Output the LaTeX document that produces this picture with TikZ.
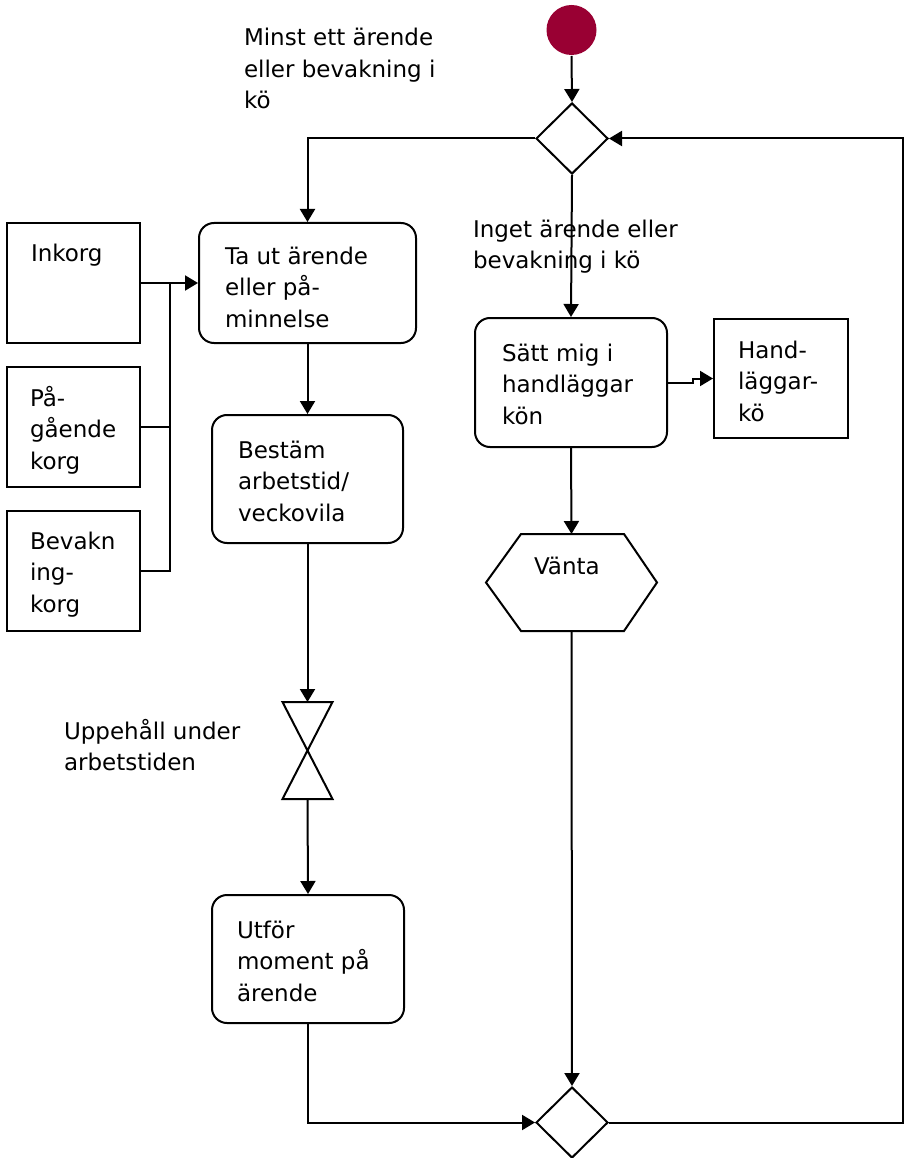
\documentclass[tikz,border=0pt]{standalone}
\usepackage{fontspec}
\setmainfont{DejaVu Sans}
\usetikzlibrary{arrows.meta,shapes.geometric}
\definecolor{startred}{HTML}{990033}
\begin{document}
\begin{tikzpicture}[x=1pt,y=-1pt,
  line width=2pt,
  arr/.style={-{Triangle[length=13pt,width=15pt]}},
  box/.style={draw,rectangle,minimum width=#1,inner sep=0pt},
  act/.style={draw,rectangle,rounded corners=15pt,inner sep=0pt},
  decision/.style={draw,diamond,minimum width=72pt,minimum height=71pt,inner sep=0pt},
  frame/.style={rectangle,inner sep=0pt},
  txt/.style={anchor=north west,inner sep=0pt,align=left,font=\fontsize{23}{31.5}\selectfont}
]
\useasboundingbox (0,0) rectangle (905,1158);

% start and decision points
\node[circle,fill=startred,minimum size=50pt,inner sep=0pt] (start) at (571.5,30) {};
\node[decision] (d1) at (572,138.5) {};
\node[decision] (d2) at (572,1122.5) {};

% input baskets
\node[box=133pt,minimum height=120pt] (inkorg) at (73.5,283) {};
\node[box=133pt,minimum height=120pt] (pag) at (73.5,427) {};
\node[box=133pt,minimum height=120pt] (bev) at (73.5,571) {};

% activities
\node[act,minimum width=217pt,minimum height=120pt] (taut) at (307.5,283) {};
\node[act,minimum width=191pt,minimum height=128pt] (bestam) at (307.5,479) {};
\node[act,minimum width=192pt,minimum height=128pt] (utfor) at (308,959) {};
\node[act,minimum width=192pt,minimum height=129pt] (satt) at (571,382.5) {};
\node[box=134pt,minimum height=119pt] (hand) at (781,378.5) {};

% wait (hexagon) and pause (hourglass)
\node[frame,minimum width=169pt,minimum height=95pt] (vanta) at (571.5,582.5) {};
\draw (vanta.west) -- ([xshift=35pt]vanta.north west) -- ([xshift=-33pt]vanta.north east)
  -- (vanta.east) -- ([xshift=-33pt]vanta.south east) -- ([xshift=35pt]vanta.south west) -- cycle;
\node[frame,minimum width=48pt,minimum height=95pt] (pause) at (307.5,750.5) {};
\draw (pause.north west) -- (pause.north east) -- (pause.south west) -- (pause.south east) -- cycle;

% texts
\node[txt] (tminst) at (243,45-22.05) {\strut Minst ett ärende\\eller bevakning i\\kö};
\node[txt] (tinget) at (472,236-22.05) {\strut Inget ärende eller\\bevakning i kö};
\node[txt] (tinkorg) at (30,261-22.05) {\strut Inkorg};
\node[txt] (tpag) at (29,405-22.05) {\strut På-\\gående\\korg};
\node[txt] (tbev) at (29,548-22.05) {\strut Bevakn\\ing-\\korg};
\node[txt] (ttaut) at (224,263-22.05) {\strut Ta ut ärende\\eller på-\\minnelse};
\node[txt] (tbestam) at (237,457-22.05) {\strut Bestäm\\arbetstid/\\veckovila};
\node[txt] (tsatt) at (501,360-22.05) {\strut Sätt mig i\\handläggar\\kön};
\node[txt] (thand) at (737,357-22.05) {\strut Hand-\\läggar-\\kö};
\node[txt] (tvanta) at (533,573-22.05) {\strut Vänta};
\node[txt] (tupp) at (63,738-22.05) {\strut Uppehåll under\\arbetstiden};
\node[txt] (tutfor) at (236,937-22.05) {\strut Utför\\moment på\\ärende};

% connectors
\coordinate (jn) at (169.5,283);
\coordinate (rt) at (903,0);
\draw[arr] (start.south) -- (d1.north);
\draw[arr] (d1.west) -| (taut.north);
\draw[arr] (d1.south) -- (satt.north);
\draw[arr] (satt.east) -- ++(25,0) |- (hand.west);
\draw[arr] (satt.south) -- (vanta.north);
\draw[arr] (vanta.south) -- (d2.north);
\draw[arr] (d2.east) -- (d2.east -| rt) -- (d1.east -| rt) -- (d1.east);
\draw[arr] (inkorg.east) -- (taut.west);
\draw (pag.east) -| (jn);
\draw (bev.east) -| (jn);
\draw[arr] (taut.south) -- (bestam.north);
\draw[arr] (bestam.south) -- (pause.north);
\draw[arr] (pause.south) -- (utfor.north);
\draw[arr] (utfor.south) |- (d2.west);
\end{tikzpicture}
\end{document}
